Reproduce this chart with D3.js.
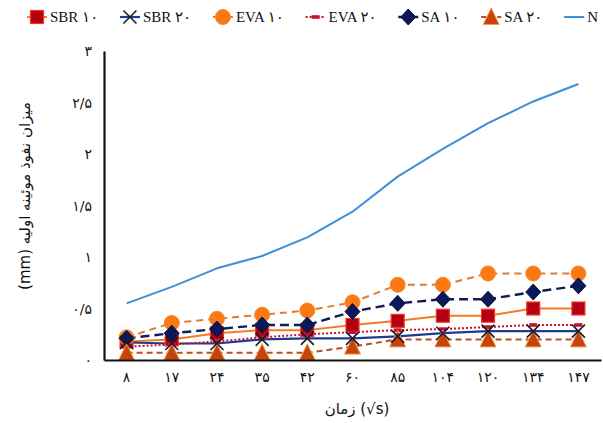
<!DOCTYPE html>
<html>
<head>
<meta charset="utf-8">
<script src="https://cdn.jsdelivr.net/npm/d3@7"></script>
<style>
  html, body { margin: 0; padding: 0; background: #fff; }
  svg { display: block; }
  text { font-family: "Liberation Serif", "DejaVu Sans", serif; fill: #111; }
</style>
</head>
<body>
<svg id="chart" width="603" height="423"></svg>
<script>
// Time (√s) categories
const times = [8, 17, 24, 35, 42, 60, 85, 104, 120, 134, 147];

// Initial capillary penetration (mm) per mix
const sbr10 = [0.18, 0.20, 0.26, 0.29, 0.29, 0.34, 0.38, 0.43, 0.43, 0.50, 0.50];
const sbr20 = [0.17, 0.16, 0.16, 0.20, 0.21, 0.21, 0.23, 0.26, 0.28, 0.28, 0.28];
const eva10 = [0.22, 0.36, 0.40, 0.44, 0.48, 0.56, 0.73, 0.73, 0.84, 0.84, 0.84];
const eva20 = [0.13, 0.15, 0.18, 0.22, 0.25, 0.27, 0.29, 0.30, 0.32, 0.34, 0.34];
const sa10  = [0.21, 0.26, 0.30, 0.34, 0.34, 0.47, 0.55, 0.59, 0.59, 0.66, 0.72];
const sa20  = [0.07, 0.07, 0.07, 0.07, 0.07, 0.13, 0.20, 0.20, 0.20, 0.20, 0.20];
const nRef  = [0.55, 0.71, 0.89, 1.01, 1.19, 1.44, 1.78, 2.05, 2.30, 2.51, 2.68];

// Axis ticks
const yTicks = [0, 0.5, 1, 1.5, 2, 2.5, 3];
const yTickLabels = ["۰", "۰/۵", "۱", "۱/۵", "۲", "۲/۵", "۳"];
const xTickLabels = ["۸", "۱۷", "۲۴", "۳۵", "۴۲", "۶۰", "۸۵", "۱۰۴", "۱۲۰", "۱۳۴", "۱۴۷"];

const seriesNames = ["SBR ۱۰", "SBR ۲۰", "EVA ۱۰", "EVA ۲۰", "SA ۱۰", "SA ۲۰", "N"];

const series = [
  { name: seriesNames[0], values: sbr10, line: "#f07d22", dash: null,  width: 2,   marker: "square" },
  { name: seriesNames[1], values: sbr20, line: "#1d3a94", dash: null,  width: 2.2, marker: "cross" },
  { name: seriesNames[2], values: eva10, line: "#e47a2e", dash: "7,5", width: 2,   marker: "circle" },
  { name: seriesNames[3], values: eva20, line: "#c8102e", dash: "2,2", width: 2,   marker: "dash" },
  { name: seriesNames[4], values: sa10,  line: "#0f1d5a", dash: "9,5", width: 2.4, marker: "diamond" },
  { name: seriesNames[5], values: sa20,  line: "#b9501a", dash: "6,4", width: 2,   marker: "triangle" },
  { name: seriesNames[6], values: nRef,  line: "#3d8fd6", dash: null,  width: 2,   marker: null }
];

const svg = d3.select("#chart");
const plot = { left: 104, right: 601, top: 51, bottom: 360 };

const x = d3.scaleBand().domain(times).range([plot.left, plot.right]);
const cx = t => x(t) + x.bandwidth() / 2;
const y = d3.scaleLinear().domain([0, 3]).range([plot.bottom, plot.top]);

// Marker drawing
function drawMarker(g, type, px, py) {
  switch (type) {
    case "square":
      g.append("rect").attr("x", px - 6.5).attr("y", py - 6.5).attr("width", 13).attr("height", 13)
        .attr("fill", "#b30012").attr("stroke", "#ee3a24").attr("stroke-width", 1.2);
      break;
    case "circle":
      g.append("circle").attr("cx", px).attr("cy", py).attr("r", 7.5)
        .attr("fill", "#fb7812").attr("stroke", "#f28a36").attr("stroke-width", 1);
      break;
    case "diamond":
      g.append("path").attr("d", `M${px},${py - 8}L${px + 7.5},${py}L${px},${py + 8}L${px - 7.5},${py}Z`)
        .attr("fill", "#0b185a").attr("stroke", "#08123f").attr("stroke-width", 1);
      break;
    case "triangle":
      g.append("path").attr("d", `M${px},${py - 9}L${px + 8},${py + 7.5}L${px - 8},${py + 7.5}Z`)
        .attr("fill", "#c8430c").attr("stroke", "#eaa04a").attr("stroke-width", 1);
      break;
    case "cross":
      g.append("path").attr("d", `M${px - 6.5},${py - 6.5}L${px + 6.5},${py + 6.5}M${px + 6.5},${py - 6.5}L${px - 6.5},${py + 6.5}`)
        .attr("stroke", "#1b1b2a").attr("stroke-width", 1.6).attr("fill", "none");
      break;
    case "dash":
      g.append("rect").attr("x", px - 4).attr("y", py - 1.8).attr("width", 8).attr("height", 3.6)
        .attr("fill", "#c8102e");
      break;
  }
}

const line = d3.line().x((d, i) => cx(times[i])).y(d => y(d));

// Lines first, then markers in series order, crosses last
const linesG = svg.append("g");
series.forEach(s => {
  linesG.append("path").datum(s.values)
    .attr("d", line)
    .attr("fill", "none")
    .attr("stroke", s.line)
    .attr("stroke-width", s.width)
    .attr("stroke-dasharray", s.dash)
    .attr("stroke-linejoin", "round");
});

const markerOrder = [0, 2, 3, 4, 5, 1];
const markersG = svg.append("g");
markerOrder.forEach(k => {
  const s = series[k];
  s.values.forEach((v, i) => drawMarker(markersG, s.marker, cx(times[i]), y(v)));
});

// Axes (lines only, no tick marks)
const xAxis = d3.axisBottom(x).tickSize(0).tickPadding(0).tickFormat((d, i) => xTickLabels[i]);
const xg = svg.append("g").attr("transform", `translate(0,${plot.bottom})`).call(xAxis);
xg.select(".domain").attr("stroke", "#111").attr("stroke-width", 2.2);
xg.selectAll("text").attr("dy", null).attr("y", 22)
  .style("font-family", "'DejaVu Sans', sans-serif").style("font-size", "14px").attr("fill", "#111");

const yAxis = d3.axisLeft(y).tickValues(yTicks).tickSize(0).tickPadding(0)
  .tickFormat((d, i) => yTickLabels[i]);
const yg = svg.append("g").attr("transform", `translate(${plot.left},0)`).call(yAxis);
yg.select(".domain").attr("stroke", "#111").attr("stroke-width", 2.2);
yg.selectAll("text").attr("x", -12).attr("dy", "0.35em")
  .style("font-family", "'DejaVu Sans', sans-serif").style("font-size", "14px").attr("fill", "#111");

// Axis titles
svg.append("text")
  .attr("transform", "translate(30,196) rotate(-90)")
  .attr("text-anchor", "middle")
  .attr("direction", "rtl")
  .style("font-family", "'DejaVu Sans', sans-serif")
  .style("font-size", "15px")
  .text("میزان نفوذ موئینه اولیه (mm)");

svg.append("text")
  .attr("x", 357).attr("y", 414)
  .attr("text-anchor", "middle")
  .style("font-family", "'DejaVu Sans', sans-serif")
  .style("font-size", "15px")
  .text("زمان (√s)");

// Legend laid out left to right, spread across the top
const legendG = svg.append("g").attr("transform", "translate(0,17)");
const legendStart = 27, legendEnd = 598, symW = 20, symGap = 3;
const items = series.map(s => {
  const item = legendG.append("g");
  const t = item.append("text").attr("y", 5).style("font-size", "15px").text(s.name);
  return { s, item, t, w: t.node().getComputedTextLength() };
});
const used = d3.sum(items, d => symW + symGap + d.w);
const gap = (legendEnd - legendStart - used) / (items.length - 1);
let lx = legendStart;
items.forEach(({ s, item, t, w }) => {
  item.insert("line", "text").attr("x1", lx).attr("x2", lx + symW).attr("y1", 0).attr("y2", 0)
    .attr("stroke", s.line).attr("stroke-width", s.width)
    .attr("stroke-dasharray", s.dash ? (s.dash === "2,2" ? "2,2" : "5,3") : null);
  if (s.marker) {
    const mg = item.insert("g", "text");
    drawMarker(mg, s.marker, lx + symW / 2, 0);
  }
  t.attr("x", lx + symW + symGap);
  lx += symW + symGap + w + gap;
});
</script>
</body>
</html>
